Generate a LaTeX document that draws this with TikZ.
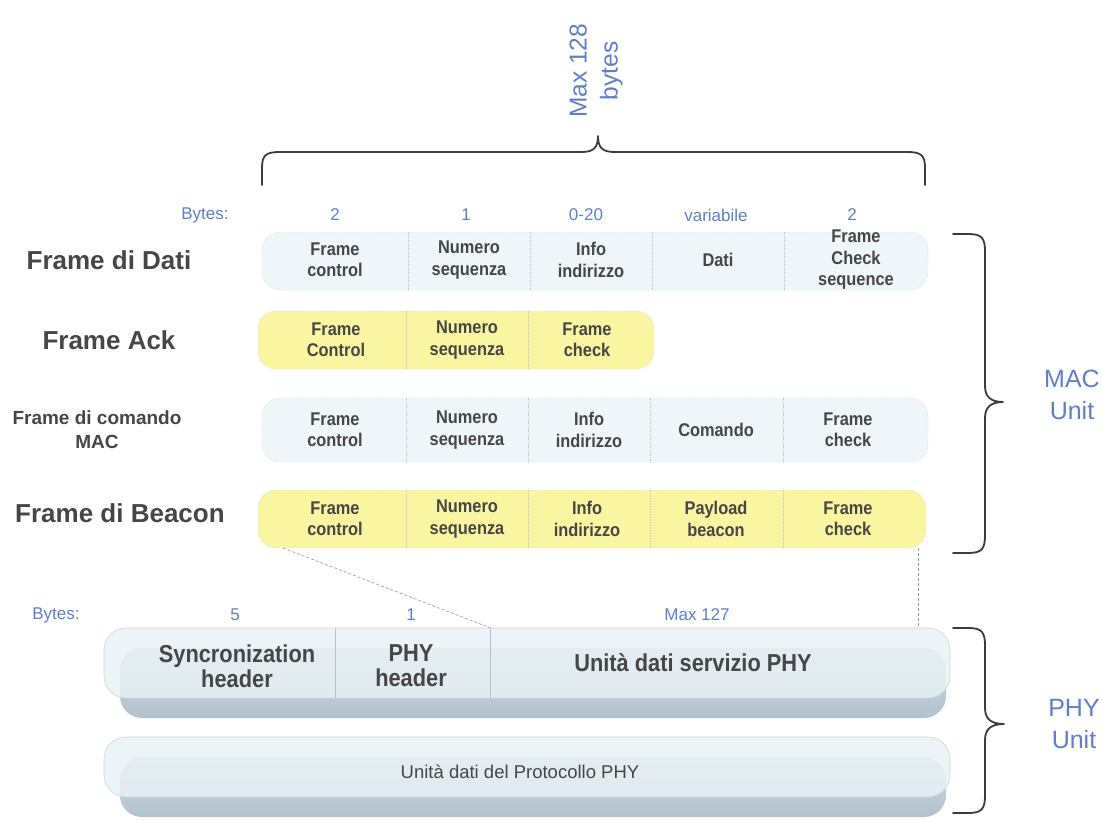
\documentclass[tikz,border=0pt]{standalone}
\usepackage{fontspec}
\setmainfont{Liberation Sans}
\newfontfamily\condfont{Liberation Sans}[FakeStretch=0.89]
\definecolor{barblue}{RGB}{238,246,250}
\definecolor{baryellow}{RGB}{250,245,160}
\definecolor{barline}{RGB}{195,205,210}
\definecolor{labblue}{RGB}{95,125,210}
\definecolor{txt}{RGB}{70,70,70}
\definecolor{bracecol}{RGB}{60,60,60}
\definecolor{phyfront}{RGB}{234,242,246}
\definecolor{physhadtop}{RGB}{205,217,224}
\definecolor{physhadbot}{RGB}{178,194,205}
\tikzset{
  bluebar/.style={draw=barline, densely dotted, fill=barblue, rounded corners=18pt, minimum height=58pt, inner sep=0pt},
  yellowbar/.style={draw=barline, densely dotted, fill=baryellow, rounded corners=18pt, minimum height=58pt, inner sep=0pt},
  divider/.style={draw=barline, densely dotted, line width=0.6pt},
  cell/.style={text=txt, font=\condfont\bfseries\fontsize{18.4}{21.5}\selectfont, align=center, inner sep=0pt},
  rowlabel/.style={text=txt, font=\bfseries\fontsize{26}{30}\selectfont, align=center, inner sep=0pt},
  bytelab/.style={text=labblue, font=\fontsize{17}{20}\selectfont, inner sep=0pt},
  unitlab/.style={text=labblue, font=\fontsize{25}{32}\selectfont, align=center, inner sep=0pt},
  bracepath/.style={draw=bracecol, line width=1.8pt, line cap=round, line join=round},
  phyfrontbox/.style={draw={rgb,255:red,205;green,215;blue,222}, line width=0.6pt, fill=phyfront, fill opacity=0.82, rounded corners=22pt, minimum width=846pt, inner sep=0pt},
  physhadow/.style={top color=physhadtop, bottom color=physhadbot, draw=none, rounded corners=22pt, minimum width=826pt, inner sep=0pt},
  phydiv/.style={draw={rgb,255:red,185;green,195;blue,200}, line width=0.6pt},
  phycell/.style={text=txt, font=\condfont\bfseries\fontsize{24.5}{25}\selectfont, align=center, inner sep=0pt},
  guide/.style={draw={rgb,255:red,150;green,150;blue,150}, densely dashed, line width=0.6pt}
}
\begin{document}
\begin{tikzpicture}[x=1pt,y=-1pt]
\useasboundingbox (0,0) rectangle (1102,821);
\fill[white] (0,0) rectangle (1102,821);

% top brace and label
\node[text=labblue, font=\fontsize{24.5}{31}\selectfont, align=center, rotate=90, inner sep=0pt] (max128) at (596,71) {Max 128\\bytes};
\draw[bracepath] (262,185) -- (262,168) .. controls (262,155) and (266,152) .. (280,152) -- (582,152) .. controls (594,152) and (598,147) .. (598,136) .. controls (598,147) and (602,152) .. (614,152) -- (907,152) .. controls (921,152) and (925,155) .. (925,168) -- (925,185);

% byte counts
\node[bytelab] (by0) at (205,215) {Bytes:};
\node[bytelab] (by1) at (335,215) {2};
\node[bytelab] (by2) at (466,215) {1};
\node[bytelab] (by3) at (586,215) {0-20};
\node[bytelab] (by4) at (716,215) {variabile};
\node[bytelab] (by5) at (852,215) {2};

% row labels
\node[rowlabel] (l1) at (109,260) {Frame di Dati};
\node[rowlabel] (l2) at (109,340) {Frame Ack};
\node[text=txt, font=\bfseries\fontsize{19}{24}\selectfont, align=center, inner sep=0pt] (l3) at (97,430) {Frame di comando\\MAC};
\node[rowlabel] (l4) at (120,513) {Frame di Beacon};

% row 1
\node[bluebar, minimum width=666pt] (r1) at (595,261) {};
\foreach \x in {408,530,652,784} \draw[divider] (r1.north -| \x,0) -- (r1.south -| \x,0);
\node[cell] (r1a) at (335,260) {Frame\\control};
\node[cell] (r1b) at (469,260) {Numero\\sequenza};
\node[cell] (r1c) at (591,260) {Info\\indirizzo};
\node[cell] (r1d) at (718,260) {Dati};
\node[cell] (r1e) at (856,260) {Frame\\Check\\sequence};

% row 2
\node[yellowbar, minimum width=396pt] (r2) at (456,340) {};
\foreach \x in {406,528} \draw[divider] (r2.north -| \x,0) -- (r2.south -| \x,0);
\node[cell] (r2a) at (336,340) {Frame\\Control};
\node[cell] (r2b) at (467,340) {Numero\\sequenza};
\node[cell] (r2c) at (587,340) {Frame\\check};

% row 3
\node[bluebar, minimum width=666pt, minimum height=64pt] (r3) at (595,430) {};
\foreach \x in {406,528,650,783} \draw[divider] (r3.north -| \x,0) -- (r3.south -| \x,0);
\node[cell] (r3a) at (335,430) {Frame\\control};
\node[cell] (r3b) at (467,430) {Numero\\sequenza};
\node[cell] (r3c) at (589,430) {Info\\indirizzo};
\node[cell] (r3d) at (716,430) {Comando};
\node[cell] (r3e) at (848,430) {Frame\\check};

% row 4
\node[yellowbar, minimum width=668pt] (r4) at (592,519) {};
\foreach \x in {406,528,650,783} \draw[divider] (r4.north -| \x,0) -- (r4.south -| \x,0);
\node[cell] (r4a) at (335,519) {Frame\\control};
\node[cell] (r4b) at (467,519) {Numero\\sequenza};
\node[cell] (r4c) at (587,519) {Info\\indirizzo};
\node[cell] (r4d) at (716,519) {Payload\\beacon};
\node[cell] (r4e) at (848,519) {Frame\\check};

% MAC brace
\draw[bracepath] (953,234) -- (968,234) .. controls (982,234) and (985,238) .. (985,252) -- (985,386) .. controls (985,396) and (990,402) .. (1003,402) .. controls (990,402) and (985,408) .. (985,418) -- (985,535) .. controls (985,549) and (982,553) .. (968,553) -- (953,553);
\node[unitlab] (mac) at (1072,395) {MAC\\Unit};

% PHY byte counts
\node[bytelab] (pb0) at (56,615) {Bytes:};
\node[bytelab] (pb1) at (235,615) {5};
\node[bytelab] (pb2) at (411,615) {1};
\node[bytelab] (pb3) at (697,615) {Max 127};

% PHY box 1
\node[physhadow, minimum height=70pt] (p1s) at (533,683) {};
\node[phyfrontbox, minimum height=70pt] (p1) at (527,663) {};
\foreach \x in {335,490} \draw[phydiv] (p1.north -| \x,0) -- (p1.south -| \x,0);
\node[phycell] (p1a) at (237,666) {Syncronization\\header};
\node[phycell] (p1b) at (411,666) {PHY\\header};
\node[phycell] (p1c) at (693,663) {Unità dati servizio PHY};

% PHY box 2
\node[physhadow, minimum height=60pt] (p2s) at (533,787) {};
\node[phyfrontbox, minimum height=60pt] (p2) at (527,767) {};
\node[text=txt, font=\fontsize{18.5}{20}\selectfont, inner sep=0pt] (p2a) at (520,772) {Unità dati del Protocollo PHY};

% guide lines from beacon frame to PHY service unit
\coordinate (g1) at (283,548);
\coordinate (g2) at (918,548);
\draw[guide] (g1) -- (p1.north -| 490,0);
\draw[guide] (g2) -- (p1.north -| 918,0);

% PHY brace
\draw[bracepath] (953,628) -- (968,628) .. controls (982,628) and (985,632) .. (985,646) -- (985,708) .. controls (985,718) and (990,724) .. (1004,724) .. controls (990,724) and (985,730) .. (985,740) -- (985,795) .. controls (985,809) and (982,813) .. (968,813) -- (953,813);
\node[unitlab] (phy) at (1074,724) {PHY\\Unit};
\end{tikzpicture}
\end{document}
